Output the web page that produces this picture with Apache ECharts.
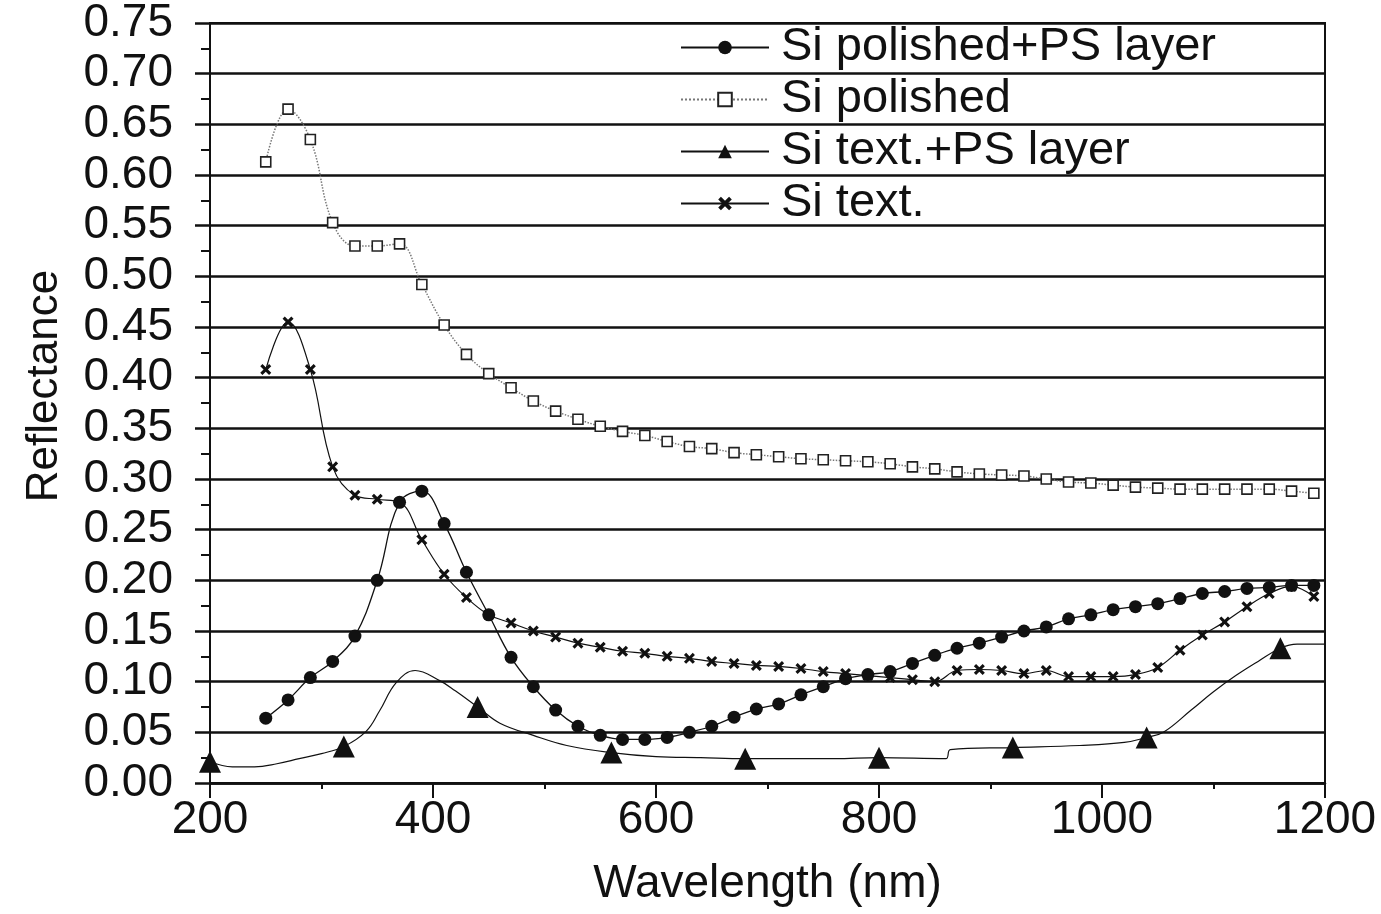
<!DOCTYPE html>
<html>
<head>
<meta charset="utf-8">
<script src="https://cdn.jsdelivr.net/npm/echarts@6/dist/echarts.min.js"></script>
<style>
  html, body { margin: 0; padding: 0; background: #fff; }
  #chart { width: 1381px; height: 914px; }
</style>
</head>
<body>
<div id="chart"></div>
<script>
// wavelength grid (nm) shared by the three densely sampled curves
const wl = [250, 270, 290, 310, 330, 350, 370, 390, 410, 430, 450, 470, 490, 510, 530, 550,
  570, 590, 610, 630, 650, 670, 690, 710, 730, 750, 770, 790, 810, 830, 850, 870,
  890, 910, 930, 950, 970, 990, 1010, 1030, 1050, 1070, 1090, 1110, 1130, 1150, 1170, 1190]

const polishedPs = [0.064, 0.082, 0.104, 0.120, 0.145, 0.200, 0.277, 0.288, 0.256, 0.208, 0.166, 0.124,
  0.095, 0.072, 0.056, 0.047, 0.043, 0.043, 0.045, 0.050, 0.056, 0.065, 0.073, 0.078,
  0.087, 0.095, 0.103, 0.107, 0.110, 0.118, 0.126, 0.133, 0.138, 0.144, 0.150, 0.154,
  0.162, 0.166, 0.171, 0.174, 0.177, 0.182, 0.187, 0.189, 0.192, 0.193, 0.195, 0.195]

const polished = [0.613, 0.665, 0.635, 0.553, 0.530, 0.530, 0.532, 0.492, 0.452, 0.423, 0.404, 0.390,
  0.377, 0.367, 0.359, 0.352, 0.347, 0.343, 0.337, 0.332, 0.330, 0.326, 0.324, 0.322,
  0.320, 0.319, 0.318, 0.317, 0.315, 0.312, 0.310, 0.307, 0.305, 0.304, 0.303, 0.300,
  0.297, 0.296, 0.294, 0.292, 0.291, 0.290, 0.290, 0.290, 0.290, 0.290, 0.288, 0.286]

const textured = [0.408, 0.455, 0.408, 0.312, 0.284, 0.280, 0.277, 0.240, 0.206, 0.183, 0.166, 0.158,
  0.150, 0.144, 0.138, 0.134, 0.130, 0.128, 0.125, 0.123, 0.120, 0.118, 0.116, 0.115,
  0.113, 0.110, 0.108, 0.106, 0.104, 0.102, 0.100, 0.111, 0.112, 0.111, 0.108, 0.111,
  0.105, 0.105, 0.105, 0.107, 0.114, 0.131, 0.146, 0.159, 0.174, 0.187, 0.194, 0.184]

// textured + PS layer: continuous curve, triangles only every 120 nm
const texPsX = [200, 220, 240, 260, 280, 300, 320, 340, 352, 367, 384, 406, 420, 440, 460, 490,
  520, 560, 600, 640, 680, 720, 760, 800, 860, 864, 920, 980, 1020, 1040, 1055, 1080,
  1100, 1120, 1140, 1160, 1175, 1200]
const texPsY = [0.021, 0.016, 0.016, 0.019, 0.024, 0.029, 0.036, 0.051, 0.071, 0.099, 0.111, 0.101,
  0.091, 0.075, 0.059, 0.047, 0.037, 0.030, 0.026, 0.025, 0.024, 0.024, 0.024, 0.025,
  0.024, 0.033, 0.035, 0.037, 0.040, 0.045, 0.050, 0.072, 0.090, 0.106, 0.120, 0.133,
  0.137, 0.137]
const texPsMarks = [200, 320, 440, 560, 680, 800, 920, 1040, 1160]

const names = ['Si polished+PS layer', 'Si polished', 'Si text.+PS layer', 'Si text.']

const xMark = 'path://M0,2L2,0L5,3L8,0L10,2L7,5L10,8L8,10L5,7L2,10L0,8L3,5Z'
const font = '"Liberation Sans", Arial, Helvetica, sans-serif'
const ink = '#111'

const pairs = (xs, ys) => xs.map((x, i) => [x, ys[i]])

const chart = echarts.init(document.getElementById('chart'))
chart.setOption({
  backgroundColor: '#fff',
  animation: false,
  textStyle: {fontFamily: font, color: ink},
  grid: {left: 210, right: 56, top: 21, bottom: 131, show: true, borderColor: ink, borderWidth: 2},
  legend: {
    data: names,
    orient: 'vertical',
    left: 680,
    top: 24,
    padding: 0,
    itemGap: 5,
    itemWidth: 88,
    itemHeight: 17,
    textStyle: {fontFamily: font, fontSize: 47, color: ink, lineHeight: 46, padding: [0, 0, 0, 7]}
  },
  xAxis: {
    type: 'value',
    min: 200,
    max: 1200,
    interval: 200,
    name: 'Wavelength (nm)',
    nameLocation: 'middle',
    nameGap: 78,
    nameTextStyle: {fontFamily: font, fontSize: 46, color: ink},
    axisLine: {lineStyle: {color: ink, width: 2.5}},
    axisTick: {show: true, inside: false, length: 15, lineStyle: {color: ink, width: 2}},
    minorTick: {show: true, splitNumber: 2, length: 6, lineStyle: {color: ink, width: 2}},
    axisLabel: {fontFamily: font, fontSize: 46, color: ink, margin: 14, formatter: v => String(v)},
    splitLine: {show: false}
  },
  yAxis: {
    type: 'value',
    min: 0,
    max: 0.75,
    interval: 0.05,
    name: 'Reflectance',
    nameLocation: 'middle',
    nameGap: 143,
    nameTextStyle: {fontFamily: font, fontSize: 44, color: ink, padding: [0, 0, 0, 34]},
    axisLine: {show: true, lineStyle: {color: ink, width: 2}},
    axisTick: {show: true, inside: false, length: 15, lineStyle: {color: ink, width: 2.5}},
    minorTick: {show: true, splitNumber: 2, length: 9, lineStyle: {color: ink, width: 2}},
    axisLabel: {
      fontFamily: font, fontSize: 46, color: ink, margin: 37, padding: [8, 0, 0, 0],
      formatter: v => v.toFixed(2)
    },
    splitLine: {show: true, lineStyle: {color: ink, width: 2.5}}
  },
  series: [
    {
      name: names[0],
      type: 'line',
      data: pairs(wl, polishedPs),
      smooth: 0.4,
      symbol: 'circle',
      symbolSize: 13,
      itemStyle: {color: ink},
      lineStyle: {color: ink, width: 1.3},
      z: 5
    },
    {
      name: names[1],
      type: 'line',
      data: pairs(wl, polished),
      smooth: 0.4,
      symbol: 'rect',
      symbolSize: 10,
      itemStyle: {color: '#fff', borderColor: '#222', borderWidth: 1.6},
      lineStyle: {color: '#777', width: 1.5, type: 'dotted'},
      z: 4
    },
    {
      name: names[2],
      type: 'line',
      data: texPsX.map((x, i) => ({
        value: [x, texPsY[i]],
        symbol: texPsMarks.includes(x) ? 'triangle' : 'none'
      })),
      smooth: 0.4,
      symbol: 'triangle',
      symbolSize: 22,
      itemStyle: {color: ink},
      lineStyle: {color: ink, width: 1.2},
      z: 3
    },
    {
      name: names[3],
      type: 'line',
      data: pairs(wl, textured),
      smooth: 0.4,
      symbol: xMark,
      symbolSize: 11,
      itemStyle: {color: ink},
      lineStyle: {color: ink, width: 1.2},
      z: 3
    }
  ]
})
</script>
</body>
</html>
